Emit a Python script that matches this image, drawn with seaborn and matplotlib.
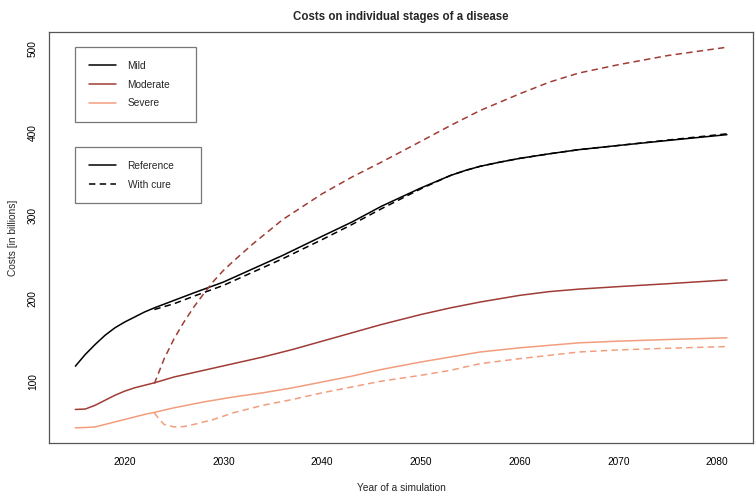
import numpy as np
import pandas as pd
import matplotlib
matplotlib.use("Agg")
import matplotlib.pyplot as plt
from matplotlib.lines import Line2D
import seaborn as sns

# ---------------- data ----------------
mild_ref_years = [2015, 2016, 2017, 2018, 2019, 2020, 2021, 2022, 2023, 2025, 2027, 2030, 2033, 2036,
                  2040, 2043, 2046, 2050, 2053, 2054.5, 2056, 2058, 2060, 2063, 2066, 2070, 2075, 2081]
mild_ref_vals = [119, 133, 145, 156, 165, 172, 178, 184, 189, 198, 207, 220, 236, 252,
                 275, 292, 311, 333, 348, 354, 359, 364, 368.5, 374, 379, 384, 390, 397]

mild_cure_years = [2023, 2025, 2027, 2030, 2033, 2036, 2040, 2043, 2046, 2050, 2053, 2054.5, 2056,
                   2058, 2060, 2063, 2066, 2070, 2075, 2081]
mild_cure_vals = [187, 194, 203, 216, 232, 248, 271, 289, 308, 332, 348, 354, 359,
                  364, 368.5, 374, 379, 384, 390.5, 398]

mod_ref_years = [2015, 2016, 2017, 2018, 2019, 2020, 2021, 2022, 2023, 2025, 2028, 2031, 2034, 2037,
                 2040, 2043, 2046, 2050, 2053, 2056, 2060, 2063, 2066, 2070, 2075, 2081]
mod_ref_vals = [67, 67.5, 72, 78, 84, 89, 93, 96, 99, 106, 114, 122, 130, 139,
                149, 159, 169, 181, 189, 196, 204, 208.5, 211.5, 214.5, 218, 222.5]

mod_cure_years = [2023, 2024, 2025, 2026, 2027, 2028, 2029, 2030, 2031, 2033, 2036, 2040, 2043, 2046,
                  2050, 2053, 2056, 2060, 2063, 2066, 2070, 2075, 2081]
mod_cure_vals = [98, 128, 152, 172, 190, 206, 221, 234, 245, 266, 295, 326, 346, 364,
                 389, 408, 426, 446, 460, 471, 481, 492, 502]

sev_ref_years = [2015, 2016, 2017, 2018, 2019, 2020, 2021, 2022, 2023, 2025, 2028, 2031, 2034, 2037,
                 2040, 2043, 2046, 2050, 2053, 2056, 2060, 2063, 2066, 2070, 2075, 2081]
sev_ref_vals = [45, 45.3, 46, 49, 52, 55, 58, 61, 63.5, 69, 76, 82, 87, 93,
                100, 107, 115, 124, 130, 136, 141, 144, 147, 149, 151, 153]

sev_cure_years = [2023, 2023.5, 2024, 2025, 2026, 2027, 2029, 2031, 2034, 2037, 2040, 2043, 2046,
                  2050, 2053, 2056, 2060, 2063, 2066, 2070, 2075, 2081]
sev_cure_vals = [63, 55, 49, 46, 46.5, 49, 55, 63, 72, 79, 87, 94, 101,
                 108, 114, 122, 128, 132, 136, 138.5, 140.5, 142.5]

stages = ["Mild", "Moderate", "Severe"]
scenarios = ["Reference", "With cure"]
x_ticks = [2020, 2030, 2040, 2050, 2060, 2070, 2080]
y_ticks = [100, 200, 300, 400, 500]

title = "Costs on individual stages of a disease"
x_label = "Year of a simulation"
y_label = "Costs [in billions]"

# ---------------- build long table ----------------
series = [
    ("Mild", "Reference", mild_ref_years, mild_ref_vals),
    ("Mild", "With cure", mild_cure_years, mild_cure_vals),
    ("Moderate", "Reference", mod_ref_years, mod_ref_vals),
    ("Moderate", "With cure", mod_cure_years, mod_cure_vals),
    ("Severe", "Reference", sev_ref_years, sev_ref_vals),
    ("Severe", "With cure", sev_cure_years, sev_cure_vals),
]
frames = []
for st, sc, yrs, vals in series:
    frames.append(pd.DataFrame({"year": yrs, "cost": vals, "stage": st, "scenario": sc}))
df = pd.concat(frames, ignore_index=True)

# ---------------- style ----------------
sns.set_style("white")
plt.rcParams["font.family"] = ["Liberation Sans", "DejaVu Sans"]

colors = {"Mild": "#000000", "Moderate": "#A03C36", "Severe": "#F29E7E"}
lw = 1.1
dash_pat = (4.2, 2.8)
dashes = {"Reference": "", "With cure": dash_pat}

fig = plt.figure(figsize=(7.56, 4.93), dpi=100)
ax = fig.add_axes([49.3 / 756, 1 - 443 / 493, (753 - 49.3) / 756, (443 - 32) / 493])

sns.lineplot(data=df, x="year", y="cost", hue="stage", style="scenario",
             palette=colors, dashes=dashes, estimator=None, sort=True,
             linewidth=lw, ax=ax, legend=False,
             hue_order=stages, style_order=scenarios)

# R-like 4% padding
xmin, xmax = df["year"].min(), df["year"].max()
ymin, ymax = df["cost"].min(), df["cost"].max()
ax.set_xlim(xmin - 0.04 * (xmax - xmin), xmax + 0.04 * (xmax - xmin))
ax.set_ylim(ymin - 0.04 * (ymax - ymin), ymax + 0.04 * (ymax - ymin))

ax.set_xticks(x_ticks)
ax.set_yticks(y_ticks)
ax.tick_params(axis="both", direction="out", length=4.3, width=0.8, color="#999999",
               labelsize=7.3, labelcolor="#000000")
ax.tick_params(axis="x", pad=5.5)
ax.tick_params(axis="y", pad=4)
for lab in ax.get_yticklabels():
    lab.set_rotation(90)
    lab.set_va("center")

for sp in ax.spines.values():
    sp.set_visible(True)
    sp.set_color("#555555")
    sp.set_linewidth(0.9)

ax.set_xlabel(x_label, fontsize=7.3, labelpad=12)
ax.set_ylabel(y_label, fontsize=7.3, labelpad=7)
ax.set_title(title, fontsize=8.3, fontweight="bold", pad=8.5)

# ---------------- legends ----------------
h1 = [Line2D([], [], color=colors[s], lw=lw) for s in stages]
leg1 = ax.legend(h1, stages, loc="upper left", bbox_to_anchor=(0.037, 0.3, 0.172, 0.663),
                 mode="expand", fontsize=7.3, frameon=True, fancybox=False,
                 edgecolor="#555555", borderpad=1.35, labelspacing=0.85,
                 handlelength=2.7, handletextpad=1.1, borderaxespad=0)
leg1.get_frame().set_linewidth(0.9)
ax.add_artist(leg1)

h2 = [Line2D([], [], color="#000000", lw=lw),
      Line2D([], [], color="#000000", lw=lw, dashes=dash_pat)]
leg2 = ax.legend(h2, scenarios, loc="upper left", bbox_to_anchor=(0.037, 0.1, 0.179, 0.6195),
                 mode="expand", fontsize=7.3, frameon=True, fancybox=False,
                 edgecolor="#555555", borderpad=1.35, labelspacing=0.85,
                 handlelength=2.7, handletextpad=1.1, borderaxespad=0)
leg2.get_frame().set_linewidth(0.9)

fig.savefig("out.png", dpi=100)
